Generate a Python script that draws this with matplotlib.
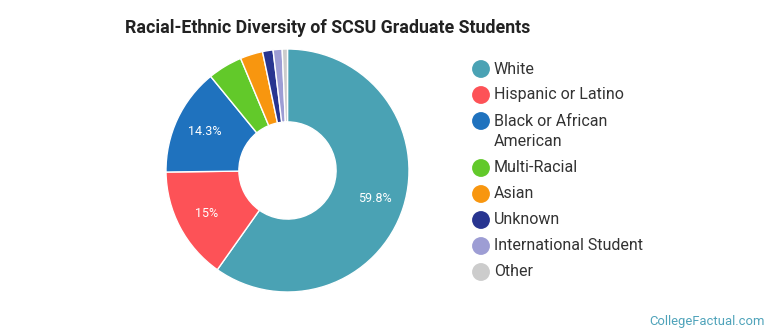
import matplotlib
matplotlib.use("Agg")
import numpy as np
import matplotlib.pyplot as plt

plt.rcParams['font.family'] = ['Roboto', 'DejaVu Sans']

labels = ["White", "Hispanic or Latino", "Black or African\nAmerican", "Multi-Racial",
          "Asian", "Unknown", "International Student", "Other"]
shares = [59.8, 15.0, 14.3, 4.6, 3.0, 1.4, 1.2, 0.7]
colors = ["#4aa2b4", "#fd5257", "#1f72be", "#62c92a", "#f8960f", "#283590", "#9d9dd4", "#cccccc"]
show_label = [True, True, True, False, False, False, False, False]

W, H = 770, 335
fig = plt.figure(figsize=(W / 100, H / 100), dpi=100)

# donut
cx, cy, r = 287.5, 170.5, 121.5
ax = fig.add_axes([(cx - r) / W, (H - cy - r) / H, 2 * r / W, 2 * r / H])
wedges, _ = ax.pie(shares, colors=colors, startangle=90, counterclock=False, radius=1,
                   wedgeprops=dict(width=0.6, edgecolor='white', linewidth=1))
for w, val, show in zip(wedges, shares, show_label):
    if not show:
        continue
    ang = np.deg2rad((w.theta1 + w.theta2) / 2)
    ax.text(0.755 * np.cos(ang), 0.755 * np.sin(ang), f"{val:g}%", color='white',
            ha='center', va='center', fontsize=9)
ax.set_xlim(-1, 1)
ax.set_ylim(-1, 1)
ax.set_aspect('equal')
ax.axis('off')

fig.text(125 / W, 1 - 28 / H, "Racial-Ethnic Diversity of SCSU Graduate Students",
         fontsize=12.8, fontweight='bold', color='#222222', ha='left', va='center')

# legend
lax = fig.add_axes([0, 0, 1, 1])
lax.set_xlim(0, W)
lax.set_ylim(H, 0)
lax.axis('off')
y = 69
for lab, col in zip(labels, colors):
    lax.scatter([481], [y], s=165, color=col, edgecolors='none')
    for k, line in enumerate(lab.split("\n")):
        lax.text(494, y + 21 * k, line, fontsize=11.5, color='#333333',
                 ha='left', va='center')
    y += 26 + 21 * lab.count("\n")

fig.text(765 / W, 1 - 321 / H, "CollegeFactual.com", fontsize=9.4, color='#4fa3ba',
         ha='right', va='center')

fig.savefig("out.png", dpi=100)
